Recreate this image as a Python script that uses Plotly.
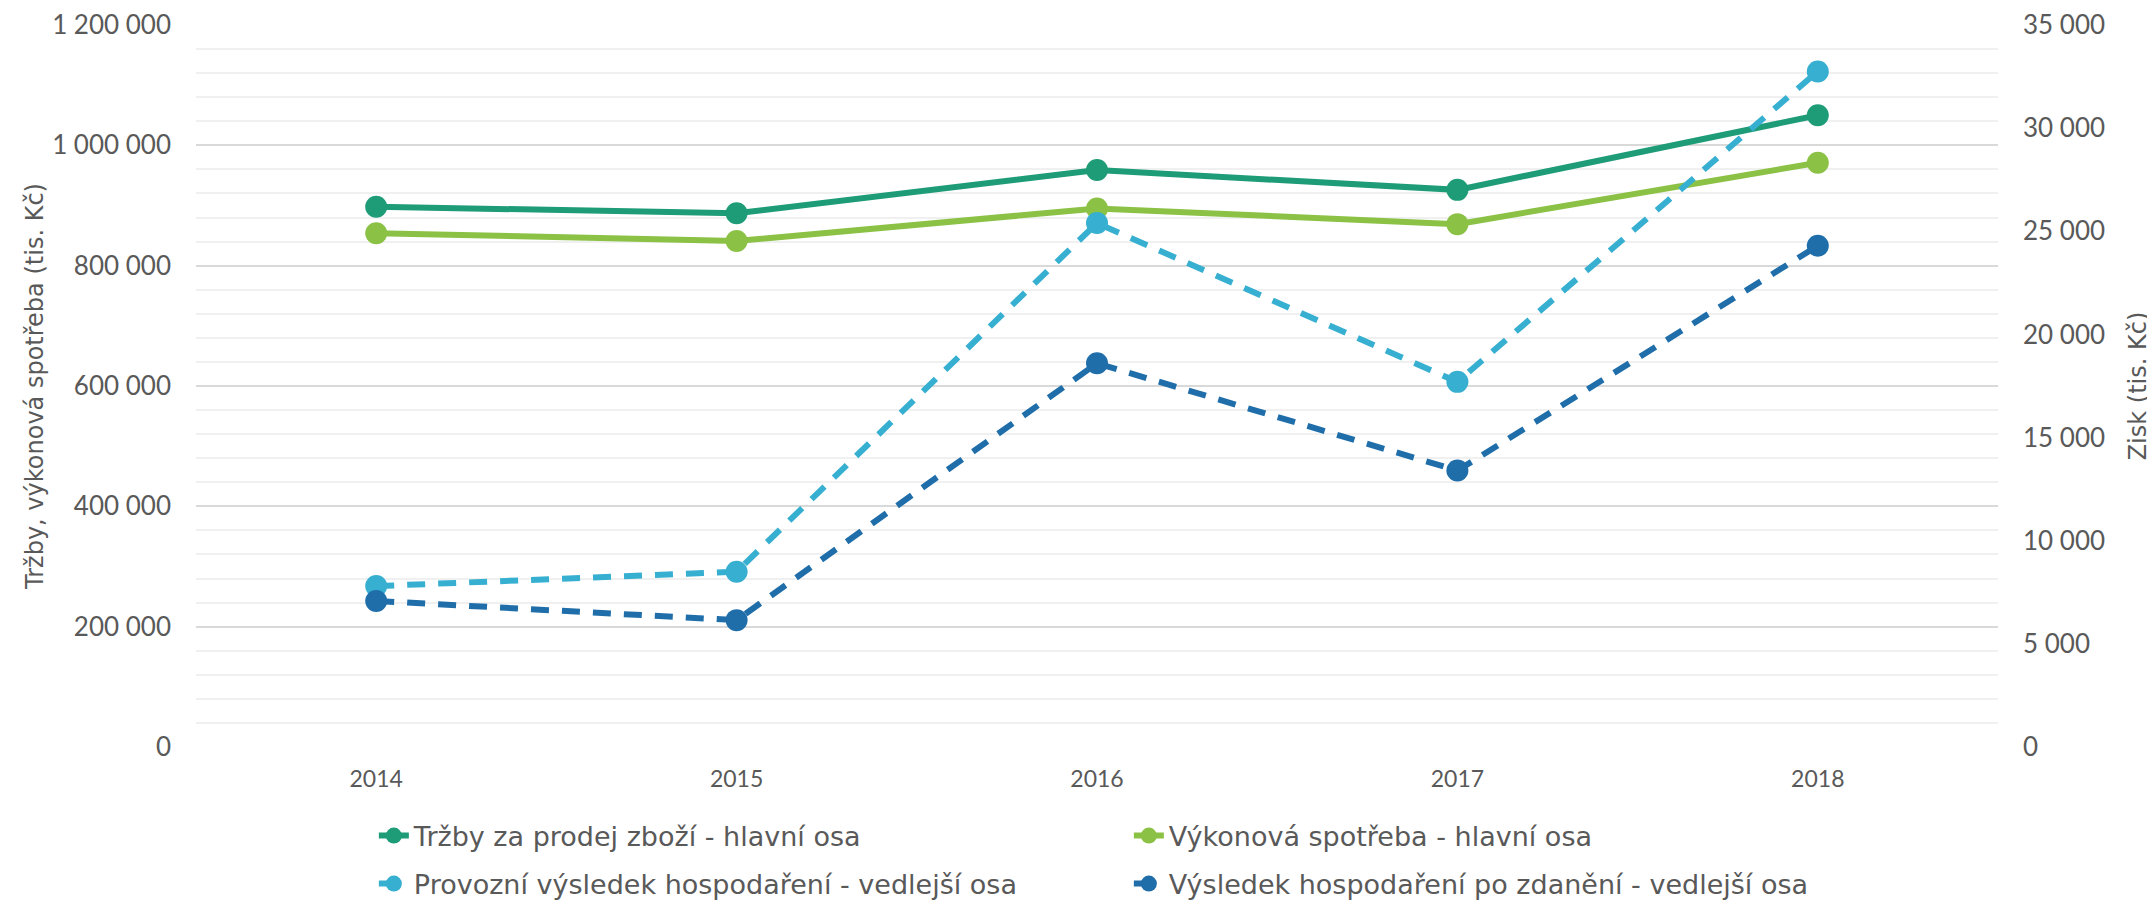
import plotly.graph_objects as go

years = ["2014", "2015", "2016", "2017", "2018"]
trzby = [898000, 887000, 959000, 926000, 1050000]
vykonova = [854000, 841000, 895000, 869000, 971000]
provozni = [7800, 8500, 25400, 17700, 32750]
vysledek = [7080, 6150, 18600, 13400, 24300]

names = [
    "Tržby za prodej zboží - hlavní osa",
    "Výkonová spotřeba - hlavní osa",
    "Provozní výsledek hospodaření - vedlejší osa",
    "Výsledek hospodaření po zdanění - vedlejší osa",
]
colors = ["#1e9b77", "#8bc145", "#37afd0", "#1f6eaa"]

NUMFONT = "Lato, sans-serif"
TXTFONT = "'DejaVu Sans', sans-serif"
GRAY = "#595959"
DASH = "18px,13px"

fig = go.Figure()
fig.add_trace(go.Scatter(x=years, y=trzby, name=names[0], mode="lines+markers", legend="legend",
                         line=dict(color=colors[0], width=6), marker=dict(size=22, color=colors[0])))
fig.add_trace(go.Scatter(x=years, y=vykonova, name=names[1], mode="lines+markers", legend="legend",
                         line=dict(color=colors[1], width=6), marker=dict(size=22, color=colors[1])))
fig.add_trace(go.Scatter(x=years, y=provozni, name=names[2], mode="lines+markers", yaxis="y2",
                         legend="legend2",
                         line=dict(color=colors[2], width=6, dash=DASH),
                         marker=dict(size=22, color=colors[2])))
fig.add_trace(go.Scatter(x=years, y=vysledek, name=names[3], mode="lines+markers", yaxis="y2",
                         legend="legend2",
                         line=dict(color=colors[3], width=6, dash=DASH),
                         marker=dict(size=22, color=colors[3])))

leg_common = dict(
    orientation="h", xanchor="left", yanchor="middle",
    entrywidth=710, entrywidthmode="pixels",
    font=dict(size=27, color=GRAY, family=TXTFONT),
    bgcolor="rgba(0,0,0,0)",
)

fig.update_layout(
    width=2147, height=896,
    margin=dict(l=188, r=157, t=17, b=157, autoexpand=False),
    paper_bgcolor="white", plot_bgcolor="white",
    font=dict(family=NUMFONT, color=GRAY, size=23),
    separators=", ",
    showlegend=True,
    legend=dict(x=0.0987, y=-0.1233, **leg_common),
    legend2=dict(x=0.0987, y=-0.1898, **leg_common),
    xaxis=dict(
        type="category", range=[-0.5, 4.5], showgrid=False, zeroline=False,
        showline=False, ticks="", tickfont=dict(size=23, color=GRAY, family=NUMFONT),
        ticklabelstandoff=16,
    ),
    yaxis=dict(
        range=[0, 1200000], dtick=200000, tickformat=",d",
        showgrid=True, gridcolor="#d9d9d9", gridwidth=2,
        minor=dict(dtick=40000, showgrid=True, gridcolor="#f0f0f0", gridwidth=2),
        zeroline=False, showline=False, ticks="",
        tickfont=dict(size=26, color=GRAY, family=NUMFONT), ticklabelstandoff=24,
        title=dict(text="Tržby, výkonová spotřeba (tis. Kč)",
                   font=dict(size=24, color=GRAY, family=TXTFONT), standoff=1),
    ),
    yaxis2=dict(
        range=[0, 35000], dtick=5000, tickformat=",d", overlaying="y", side="right",
        showgrid=False, zeroline=False, showline=False, ticks="",
        tickfont=dict(size=26, color=GRAY, family=NUMFONT), ticklabelstandoff=24,
        title=dict(text="Zisk (tis. Kč)", font=dict(size=24, color=GRAY, family=TXTFONT), standoff=25),
    ),
)

fig.write_html("out.html")
